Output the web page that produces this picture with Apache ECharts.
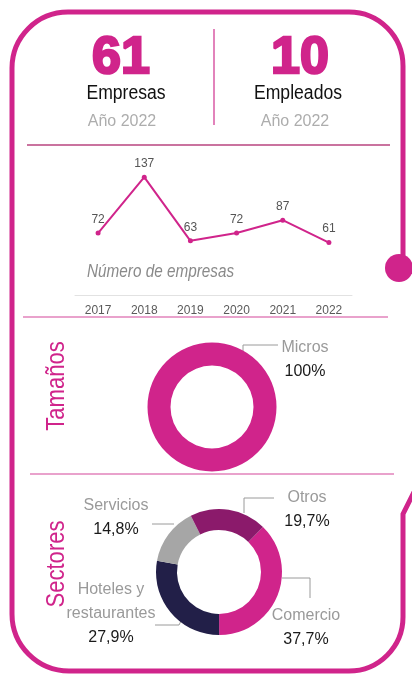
<!DOCTYPE html>
<html>
<head>
<meta charset="utf-8">
<script src="https://cdn.jsdelivr.net/npm/echarts@6/dist/echarts.min.js"></script>
<style>
  html, body { margin: 0; padding: 0; background: #fff; }
  #chart { width: 412px; height: 674px; }
</style>
</head>
<body>
<div id="chart"></div>
<script>
// headline figures
const kpiValues = [61, 10];
const kpiNames = ['Empresas', 'Empleados'];
const kpiYear = 'Año 2022';

// number of companies per year
const years = ['2017', '2018', '2019', '2020', '2021', '2022'];
const empresas = [72, 137, 63, 72, 87, 61];

// company sizes (%)
const sizeNames = ['Micros'];
const sizeShares = [100];

// sectors (%), clockwise from the upper right
const sectorNames = ['Comercio', 'Hoteles y\nrestaurantes', 'Servicios', 'Otros'];
const sectorShares = [37.7, 27.9, 14.8, 19.7];

const PINK = '#d0248b';
const LIGHT_PINK = '#e283bb';
const sectorColors = [PINK, '#221f48', '#a6a6a6', '#8b1a6b'];

// the original uses an Arial Narrow look; use a narrow face if the machine
// has one, otherwise squeeze the regular one
function hasFont(name) {
  const ctx = document.createElement('canvas').getContext('2d');
  ctx.font = '20px monospace';
  const w0 = ctx.measureText('Empresas restaurantes').width;
  ctx.font = '20px "' + name + '", monospace';
  return ctx.measureText('Empresas restaurantes').width !== w0;
}
const narrowFace = ['Liberation Sans Narrow', 'Arial Narrow'].find(hasFont);
const FONT = narrowFace ? "'" + narrowFace + "', 'Liberation Sans', sans-serif" : "'Liberation Sans', Arial, sans-serif";
const SQUEEZE = narrowFace ? 1 : 0.85;
const LABEL_SIZE = narrowFace ? 18 : 16;

// where the pie labels sit (centre of the text block) and their leader lines
const sizeLabelPos = [[305, 360]];
const sizeLeaders = [[[243, 352], [243, 345], [278, 345]]];
const sectorLabelPos = [[306, 628], [111, 614], [116, 518], [307, 510]];
const sectorLeaders = [
  [[282, 578], [310, 578], [310, 598]],
  [[181, 621], [179, 625], [155, 625]],
  [[174, 524], [163, 524], [152, 524]],
  [[244, 513], [244, 498], [274, 498]],
];

const fmt = (v) => (v === 100 ? '100' : v.toFixed(1).replace('.', ','));

const pieLabel = {
  show: true,
  position: 'outside',
  fontFamily: FONT,
  lineHeight: 24,
  formatter: (p) => '{n|' + p.name + '}\n{v|' + fmt(p.value) + '%}',
  rich: {
    n: { color: '#9a9a9a', fontSize: LABEL_SIZE, fontFamily: FONT, lineHeight: 24, align: 'center' },
    v: { color: '#1a1a1a', fontSize: LABEL_SIZE, fontFamily: FONT, lineHeight: 24, align: 'center' },
  },
};
const pieLabelLine = {
  show: true,
  length: 8,
  length2: 14,
  smooth: false,
  lineStyle: { color: '#9a9a9a', width: 1 },
};

const text = (x, y, str, style, extra) => Object.assign({
  type: 'text',
  x: x,
  y: y,
  scaleX: SQUEEZE,
  style: Object.assign({ text: str, align: 'center', verticalAlign: 'middle', fontFamily: FONT }, style),
}, extra || {});

const hline = (x1, x2, y, color) => ({
  type: 'line',
  shape: { x1: x1, y1: y, x2: x2, y2: y },
  style: { stroke: color, lineWidth: 1.5 },
});

// rounded outer frame, open on the right side
const frameStyle = { fill: 'none', stroke: PINK, lineWidth: 5 };
const arc = (cx, cy, r, a0, a1) => ({
  type: 'arc',
  shape: { cx: cx, cy: cy, r: r, startAngle: a0, endAngle: a1, clockwise: true },
  style: frameStyle,
});
const seg = (points) => ({ type: 'polyline', shape: { points: points }, style: frameStyle });
const frame = [
  arc(68, 68, 56, Math.PI, Math.PI * 1.5),
  arc(349, 66, 54, -Math.PI / 2, 0),
  arc(349, 617, 54, 0, Math.PI / 2),
  arc(69, 614, 57, Math.PI / 2, Math.PI),
  seg([[68, 12], [349, 12]]),
  seg([[12, 68], [12, 614]]),
  seg([[69, 671], [349, 671]]),
  seg([[403, 66], [403, 256]]),
  seg([[403, 617], [403, 514], [414, 492]]),
  { type: 'circle', shape: { cx: 399, cy: 268, r: 14 }, style: { fill: PINK } },
];

const bigNumber = {
  fontFamily: "'Liberation Sans', Arial, sans-serif", fontWeight: 'bold', fontSize: 52,
  fill: PINK, stroke: PINK, lineWidth: 2.5,
};
const regular = { scaleX: 1 };

const option = {
  animation: false,
  backgroundColor: '#fff',
  graphic: frame.concat([
    { type: 'line', shape: { x1: 214, y1: 29, x2: 214, y2: 125 }, style: { stroke: LIGHT_PINK, lineWidth: 2 } },
    hline(27, 390, 145, '#b8457f'),
    hline(23, 388, 317, LIGHT_PINK),
    hline(30, 394, 474, LIGHT_PINK),

    text(121, 59, String(kpiValues[0]), bigNumber, regular),
    text(300, 59, String(kpiValues[1]), bigNumber, regular),
    text(126, 93, kpiNames[0], { fontSize: 20, fill: '#111' }, { scaleX: narrowFace ? 1 : 0.88 }),
    text(298, 93, kpiNames[1], { fontSize: 20, fill: '#111' }, { scaleX: narrowFace ? 1 : 0.88 }),
    text(122, 122, kpiYear, { fontFamily: "'Liberation Sans', Arial, sans-serif", fontSize: 16, fill: '#adadad' }, regular),
    text(295, 122, kpiYear, { fontFamily: "'Liberation Sans', Arial, sans-serif", fontSize: 16, fill: '#adadad' }, regular),

    text(87, 272, 'Número de empresas', { align: 'left', fontSize: 18, fontStyle: 'italic', fill: '#8a8a8a' }),

    text(57, 386, 'Tamaños', { fontSize: 26, fill: PINK }, { rotation: Math.PI / 2 }),
    text(57, 564, 'Sectores', { fontSize: 26, fill: PINK }, { rotation: Math.PI / 2 }),
  ]),
  grid: { left: 75, right: 60, top: 166, bottom: 379 },
  xAxis: {
    type: 'category',
    data: years,
    boundaryGap: true,
    axisLine: { lineStyle: { color: '#e2e2e2', width: 1 } },
    axisTick: { show: false },
    axisLabel: { color: '#5a5a5a', fontSize: 12, fontFamily: FONT, margin: 10 },
  },
  yAxis: {
    type: 'value',
    min: 0,
    max: 150,
    show: false,
    splitLine: { show: false },
  },
  series: [
    {
      name: 'Número de empresas',
      type: 'line',
      data: empresas,
      symbol: 'circle',
      symbolSize: 5,
      lineStyle: { color: PINK, width: 2 },
      itemStyle: { color: PINK },
      label: { show: true, position: 'top', distance: 5, color: '#555', fontSize: 12, fontFamily: FONT },
      emphasis: { disabled: true },
    },
    {
      name: 'Tamaños',
      type: 'pie',
      center: [212, 407],
      radius: [41.5, 64.5],
      startAngle: 90,
      silent: true,
      data: sizeNames.map((n, i) => ({ name: n, value: sizeShares[i] })),
      itemStyle: { color: PINK },
      label: pieLabel,
      labelLine: pieLabelLine,
      labelLayout: (p) => ({
        x: sizeLabelPos[p.dataIndex][0],
        y: sizeLabelPos[p.dataIndex][1],
        align: 'center',
        verticalAlign: 'middle',
        labelLinePoints: sizeLeaders[p.dataIndex],
      }),
      emphasis: { disabled: true },
    },
    {
      name: 'Sectores',
      type: 'pie',
      center: [219, 572],
      radius: [42, 63],
      startAngle: (270 + sectorShares[0] * 3.6) % 360,
      silent: true,
      data: sectorNames.map((n, i) => ({ name: n, value: sectorShares[i], itemStyle: { color: sectorColors[i] } })),
      label: pieLabel,
      labelLine: pieLabelLine,
      labelLayout: (p) => ({
        x: sectorLabelPos[p.dataIndex][0],
        y: sectorLabelPos[p.dataIndex][1],
        align: 'center',
        verticalAlign: 'middle',
        labelLinePoints: sectorLeaders[p.dataIndex],
      }),
      emphasis: { disabled: true },
    },
  ],
};

const myChart = echarts.init(document.getElementById('chart'), null, { renderer: 'canvas' });
myChart.setOption(option);
</script>
</body>
</html>
